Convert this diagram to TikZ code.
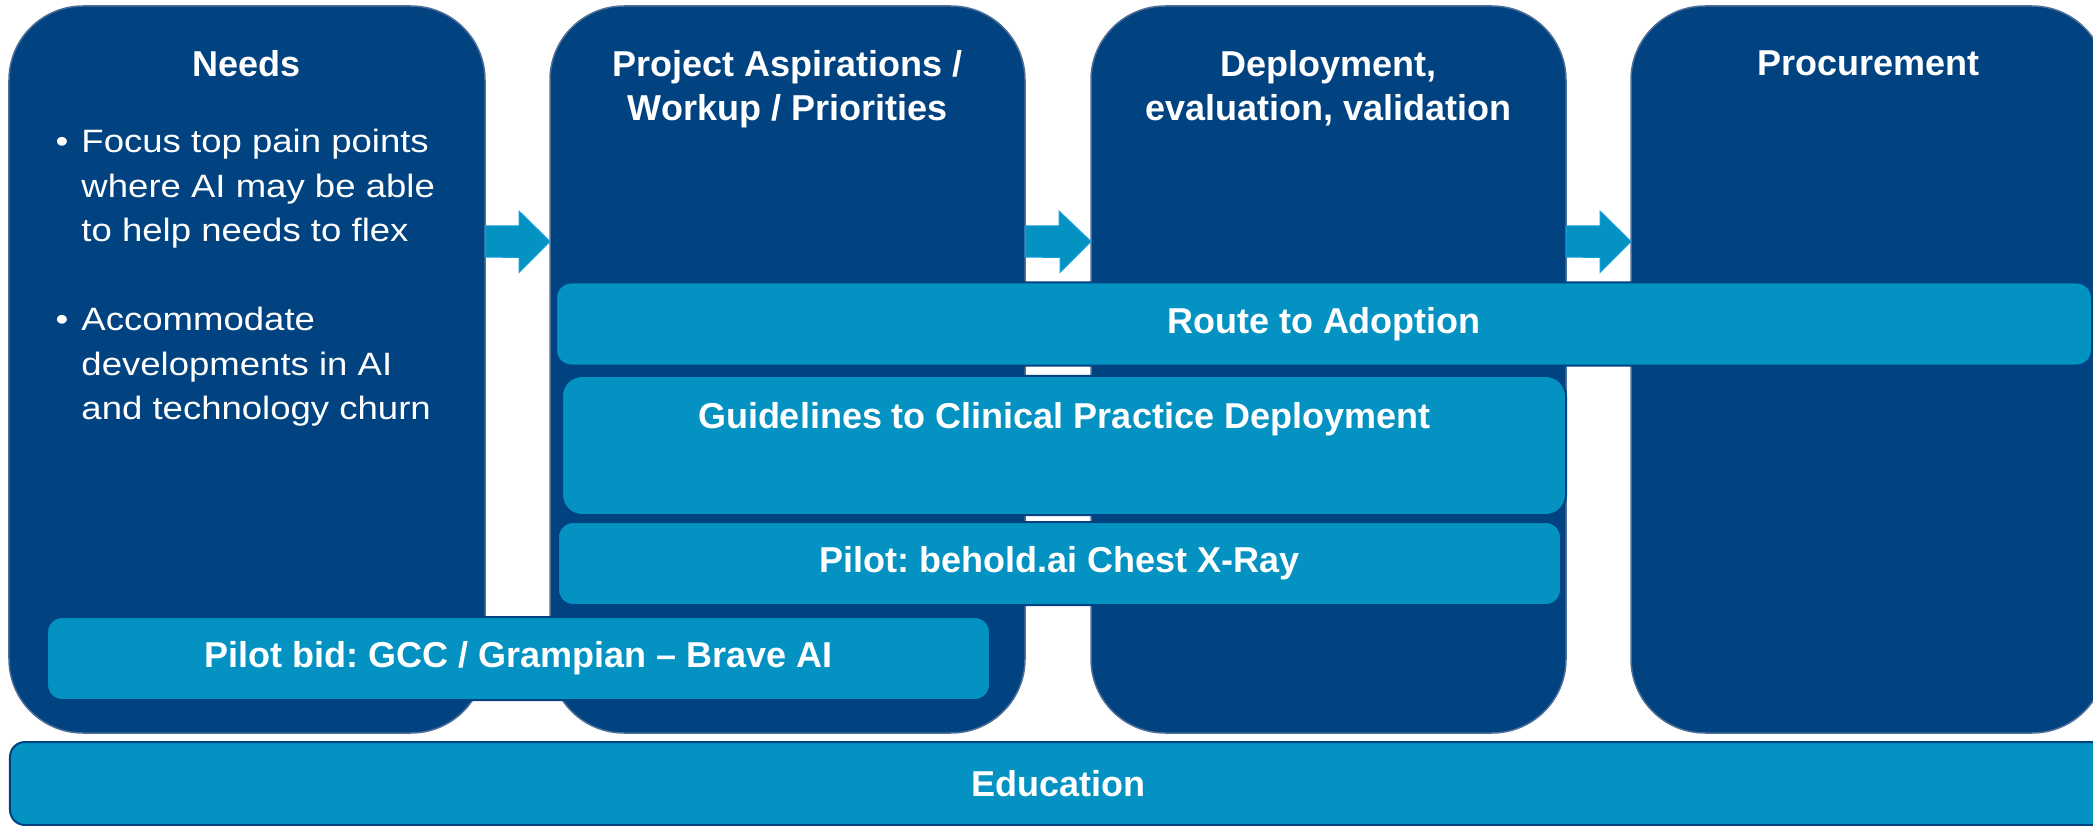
\documentclass[tikz,border=0pt]{standalone}
\usepackage{fontspec}
\setmainfont{Liberation Sans}
\newfontfamily\widesans[FakeStretch=1.13]{Liberation Sans}
\frenchspacing
\usetikzlibrary{positioning}
\definecolor{coldark}{RGB}{1,67,128}
\definecolor{colline}{RGB}{78,110,152}
\definecolor{barblue}{RGB}{3,146,194}
\definecolor{arrowline}{RGB}{24,160,222}

\begin{document}
\begin{tikzpicture}[x=1mm,y=-1mm]

\tikzset{column/.style = {rectangle, rounded corners=7.4mm, fill=coldark, draw=colline, line width=0.15mm, inner sep=0, outer sep=0, minimum width=47.5mm, minimum height=72.7mm}}
\tikzset{head/.style = {text=white, align=center, inner sep=0, font=\fontsize{10.24pt}{12.52pt}\selectfont\bfseries}}
\tikzset{bar/.style = {rectangle, rounded corners=1.5mm, fill=barblue, draw=coldark, line width=0.2mm, inner sep=0, outer sep=0, minimum height=8.3mm, text=white, font=\fontsize{10.24pt}{12.52pt}\selectfont\bfseries}}
\tikzset{flow/.style = {fill=barblue, draw=arrowline, line width=0.1mm}}

\clip (0,0) rectangle (209.3,82.6);

% columns
\node[column, minimum width=47.6mm] (needs) at (24.7,36.95) {};
\node[column] (proj) at (78.75,36.95) {};
\node[column] (deploy) at (132.85,36.95) {};
\node[column] (procure) at (186.85,36.95) {};
% headings
\node[head, below=4.4mm of needs.north] (needsh) {Needs};
\node[head, below=4.4mm of proj.north] (projh) {Project Aspirations /\\Workup / Priorities};
\node[head, below=4.4mm of deploy.north] (deployh) {Deployment,\\evaluation, validation};
\node[head, below=4.4mm of procure.north] (procureh) {Procurement};
\node[anchor=base west, text=white, inner sep=0, font=\widesans\fontsize{9.2pt}{12.66pt}\selectfont] (needsl) at (5.5,15.3) {%
\begin{tabular}[t]{@{}l@{\hspace{1.3mm}}l@{}}
\textbullet & Focus top pain points\\
 & where AI may be able\\
 & to help needs to flex\\[4.45mm]
\textbullet & Accommodate\\
 & developments in AI\\
 & and technology churn
\end{tabular}};

%arrows
\coordinate (shafttop) at (0,22.6);
\coordinate (shaftbot) at (0,25.7);
\coordinate (arrowrow) at (0,24.15);
\foreach \a/\b in {needs/proj, proj/deploy, deploy/procure}
  \draw[flow] (\a.east |- shafttop) -- ++(3.4,0) -- ++(0,-1.5) -- (\b.west |- arrowrow) -- ++(-3.1,3.1) -- ++(0,-1.5) -- (\a.east |- shaftbot) -- cycle;

% bars
\node[bar, minimum width=153.6mm] (route) at (132.4,32.4) {Route to Adoption};
\node[bar, minimum width=100.4mm, minimum height=13.9mm, rounded corners=2mm] (guide) at (106.4,44.55) {};
\node[head, below=2.6mm of guide.north] (guideh) {Guidelines to Clinical Practice Deployment};
\node[bar, minimum width=100.3mm] (behold) at (105.95,56.35) {Pilot: behold.ai Chest X-Ray};
\node[bar, minimum width=94.3mm] (bid) at (51.85,65.85) {Pilot bid: GCC / Grampian -- Brave AI};
\node[bar, minimum width=209.6mm] (edu) at (105.8,78.35) {Education};

\end{tikzpicture}
\end{document}
